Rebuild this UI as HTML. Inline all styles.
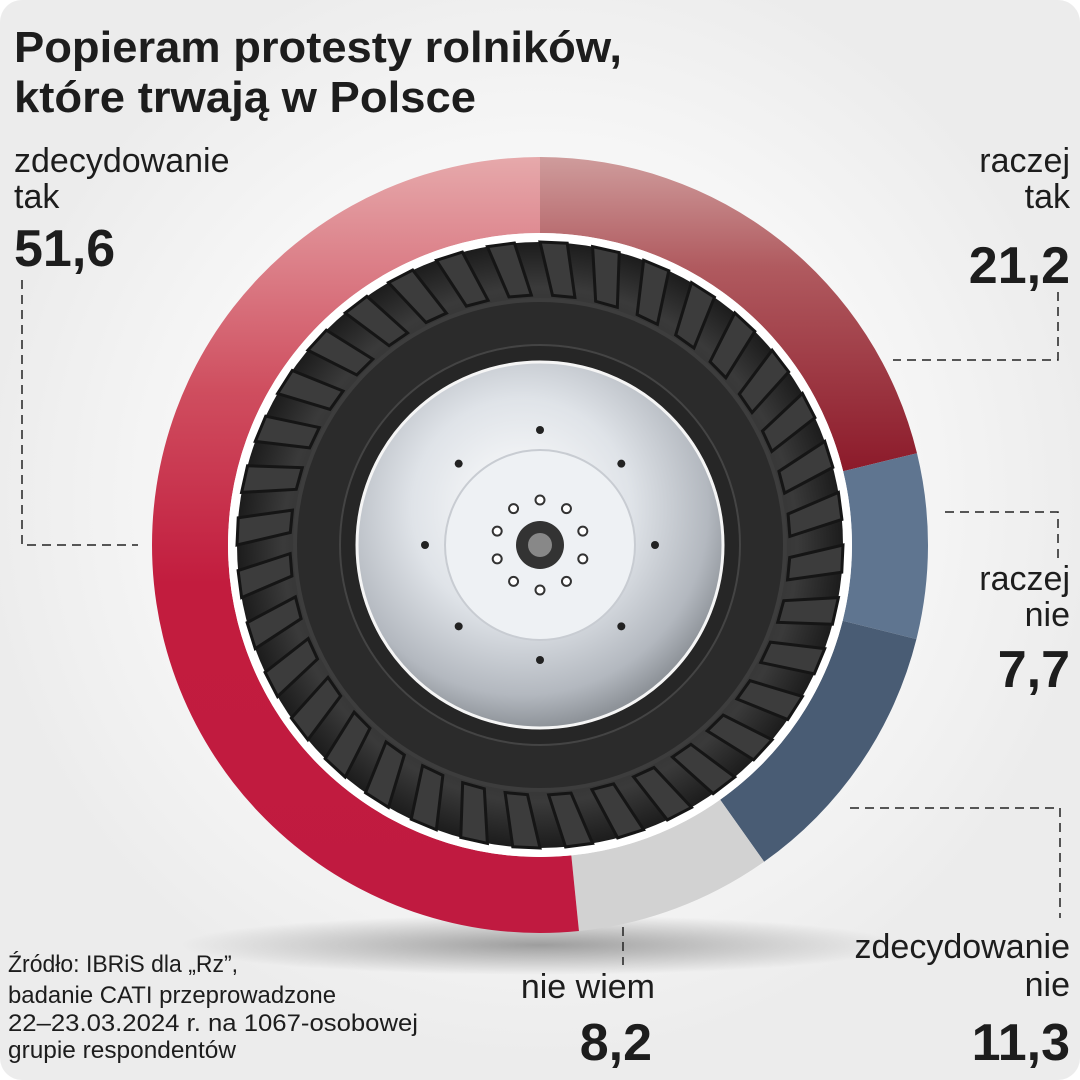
<!DOCTYPE html>
<html><head><meta charset="utf-8"><style>
html,body{margin:0;padding:0;background:#fff}
svg{display:block}
text{font-family:"Liberation Sans",sans-serif;fill:#1d1d1d}
</style></head><body>
<svg id="chart" width="1080" height="1080" viewBox="0 0 1080 1080" xmlns="http://www.w3.org/2000/svg">
<defs>
<radialGradient id="bgGlow" cx="540" cy="500" r="560" gradientUnits="userSpaceOnUse"><stop offset="0" stop-color="#ffffff"/><stop offset="0.6" stop-color="#f7f7f7"/><stop offset="1" stop-color="#ececec"/></radialGradient>
<radialGradient id="shadow" cx="0.5" cy="0.5" r="0.5"><stop offset="0" stop-color="#000" stop-opacity="0.35"/><stop offset="1" stop-color="#000" stop-opacity="0"/></radialGradient>
<linearGradient id="g0" x1="0" y1="0" x2="0" y2="1"><stop offset="0" stop-color="#cf9c9c"/><stop offset="0.35" stop-color="#b05a5f"/><stop offset="1" stop-color="#8c1a2a"/></linearGradient>
<linearGradient id="g4" x1="0" y1="0" x2="0" y2="1"><stop offset="0" stop-color="#e6a9ab"/><stop offset="0.3" stop-color="#cf4e5f"/><stop offset="0.55" stop-color="#c21c3e"/><stop offset="1" stop-color="#c01a40"/></linearGradient>
<radialGradient id="rim" cx="0.45" cy="0.4" r="0.6"><stop offset="0" stop-color="#ffffff"/><stop offset="0.5" stop-color="#dfe3e8"/><stop offset="0.85" stop-color="#b3b8bf"/><stop offset="1" stop-color="#8e9399"/></radialGradient>
<radialGradient id="tire" cx="0.5" cy="0.5" r="0.5"><stop offset="0.6" stop-color="#2a2a2a"/><stop offset="0.85" stop-color="#3a3a3a"/><stop offset="1" stop-color="#1c1c1c"/></radialGradient>
</defs>
<rect x="0" y="0" width="1080" height="1080" rx="22" fill="url(#bgGlow)"/>
<ellipse cx="540" cy="945" rx="360" ry="30" fill="url(#shadow)"/>
<g id="slices"></g>
<g id="wheel"></g>
<g>
<text x="14" y="62" font-size="44" font-weight="bold" textLength="608" lengthAdjust="spacingAndGlyphs">Popieram protesty rolników,</text>
<text x="14" y="112" font-size="44" font-weight="bold" textLength="462" lengthAdjust="spacingAndGlyphs">które trwają w Polsce</text>
</g>
<g id="labels"></g>
<g font-size="24">
<text x="8" y="972" font-size="24" textLength="230" lengthAdjust="spacingAndGlyphs">Źródło: IBRiS dla „Rz”,</text>
<text x="8" y="1003" font-size="24" textLength="328" lengthAdjust="spacingAndGlyphs">badanie CATI przeprowadzone</text>
<text x="8" y="1031" font-size="24" textLength="410" lengthAdjust="spacingAndGlyphs">22–23.03.2024 r. na 1067-osobowej</text>
<text x="8" y="1058" font-size="24" textLength="228" lengthAdjust="spacingAndGlyphs">grupie respondentów</text>
</g>
</svg>
<script>
const categories = ["raczej tak","raczej nie","zdecydowanie nie","nie wiem","zdecydowanie tak"];
const values = [21.2, 7.7, 11.3, 8.2, 51.6];
const valueLabels = ["21,2","7,7","11,3","8,2","51,6"];
const fills = ["url(#g0)","#5f7590","#495c74","#d2d2d2","url(#g4)"];
const NS="http://www.w3.org/2000/svg";
const cx=540, cy=545, R=388, r0=312;
function ang(v){return v/100*2*Math.PI;}
function pt(a,rad){return [cx+rad*Math.sin(a), cy-rad*Math.cos(a)];}
const total=values.reduce((a,b)=>a+b,0);
let acc=0;
const sg=document.getElementById('slices');
values.forEach((v,i)=>{
  const a0=ang(acc/total*100), a1=ang((acc+v)/total*100); acc+=v;
  const large=(a1-a0)>Math.PI?1:0;
  const p0=pt(a0,R),p1=pt(a1,R),q1=pt(a1,r0),q0=pt(a0,r0);
  const p=document.createElementNS(NS,'path');
  p.setAttribute('d',`M${p0} A${R},${R} 0 ${large} 1 ${p1} L${q1} A${r0},${r0} 0 ${large} 0 ${q0}Z`);
  p.setAttribute('fill',fills[i]);
  
  
  sg.appendChild(p);
});
const w=document.getElementById('wheel');
function el(tag,attrs){const e=document.createElementNS(NS,tag);for(const k in attrs)e.setAttribute(k,attrs[k]);w.appendChild(e);return e;}
el('circle',{cx,cy,r:312,fill:'#ffffff'});
el('circle',{cx,cy,r:303,fill:'url(#tire)'});
for(let k=0;k<36;k++){
  const a=k/36*2*Math.PI;
  const b=a+0.09;
  const p1=pt(a,303),p2=pt(b,303),p3=pt(b+0.05,250),p4=pt(a+0.05,250);
  el('path',{d:`M${p1} L${p2} L${p3} L${p4}Z`,fill:'#3c3c3c','stroke':'#151515','stroke-width':3});
}
el('circle',{cx,cy,r:245,fill:'#2b2b2b',stroke:'#3d3d3d','stroke-width':4});
el('circle',{cx,cy,r:200,fill:'#262626',stroke:'#444','stroke-width':2});
el('circle',{cx,cy,r:183,fill:'url(#rim)',stroke:'#f5f5f5','stroke-width':3});
el('circle',{cx,cy,r:95,fill:'#eef1f4',stroke:'#c8ccd2','stroke-width':2});
for(let k=0;k<8;k++){const p=pt(k/8*2*Math.PI,115);el('circle',{cx:p[0],cy:p[1],r:4,fill:'#222'});}
for(let k=0;k<10;k++){const p=pt(k/10*2*Math.PI,45);el('circle',{cx:p[0],cy:p[1],r:4.5,fill:'#fff',stroke:'#333','stroke-width':2});}
el('circle',{cx,cy,r:24,fill:'#333'});
el('circle',{cx,cy,r:12,fill:'#888'});
const lg=document.getElementById('labels');
function txt(x,y,s,size,bold,anchor,name){const t=document.createElementNS(NS,'text');t.setAttribute('x',x);t.setAttribute('y',y);t.setAttribute('font-size',size);if(bold)t.setAttribute('font-weight','bold');t.setAttribute('text-anchor',anchor);t.textContent=s;


lg.appendChild(t);}
function line(pts,name){const p=document.createElementNS(NS,'polyline');p.setAttribute('points',pts);p.setAttribute('fill','none');p.setAttribute('stroke','#222');p.setAttribute('stroke-width','1.5');p.setAttribute('stroke-dasharray','9 6');


lg.appendChild(p);}
txt(14,172,"zdecydowanie",34,false,'start','label-zdecydowanie-tak');
txt(14,208,"tak",34,false,'start','label-zdecydowanie-tak-2');
txt(14,266,valueLabels[4],52,true,'start','value-zdecydowanie-tak');
line("22,280 22,545 138,545",'leader-zdecydowanie-tak');
txt(1070,172,"raczej",34,false,'end','label-raczej-tak');
txt(1070,208,"tak",34,false,'end','label-raczej-tak-2');
txt(1070,283,valueLabels[0],52,true,'end','value-raczej-tak');
line("1058,292 1058,360 893,360",'leader-raczej-tak');
txt(1070,590,"raczej",34,false,'end','label-raczej-nie');
txt(1070,626,"nie",34,false,'end','label-raczej-nie-2');
txt(1070,687,valueLabels[1],52,true,'end','value-raczej-nie');
line("945,512 1058,512 1058,562",'leader-raczej-nie');
txt(1070,958,"zdecydowanie",34,false,'end','label-zdecydowanie-nie');
txt(1070,996,"nie",34,false,'end','label-zdecydowanie-nie-2');
txt(1070,1060,valueLabels[2],52,true,'end','value-zdecydowanie-nie');
line("850,808 1060,808 1060,918",'leader-zdecydowanie-nie');
txt(655,998,"nie wiem",34,false,'end','label-nie-wiem');
txt(652,1060,valueLabels[3],52,true,'end','value-nie-wiem');
line("623,927 623,965",'leader-nie-wiem');
</script>
</body></html>
